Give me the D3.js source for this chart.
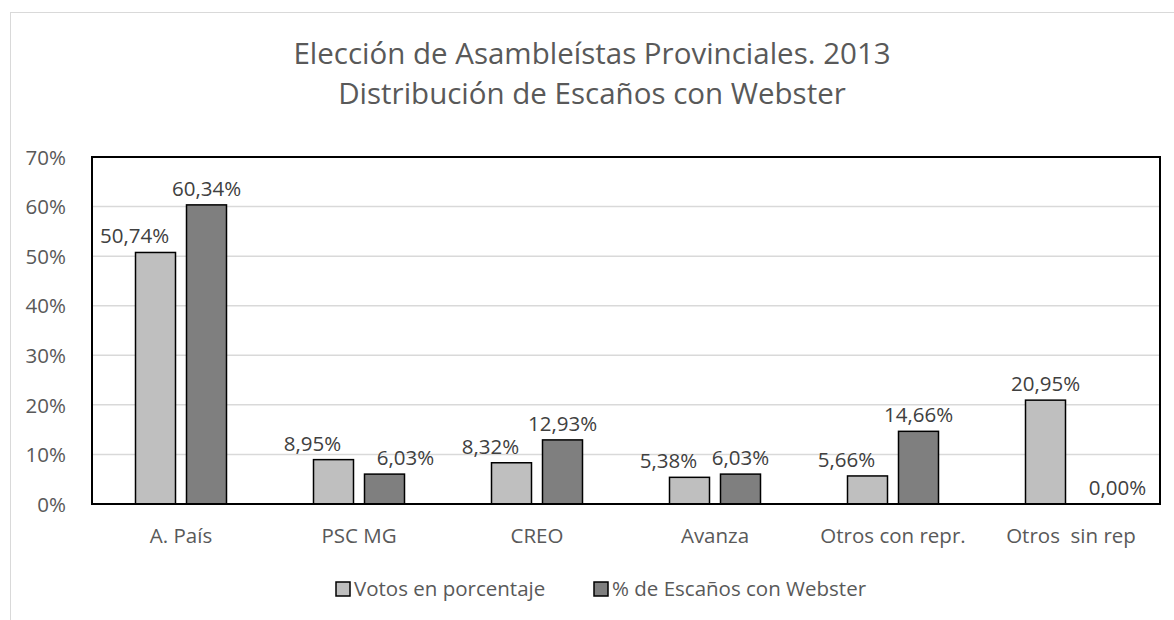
<!DOCTYPE html>
<html>
<head>
<meta charset="utf-8">
<script src="https://cdn.jsdelivr.net/npm/d3@7/dist/d3.min.js"></script>
<style type="text/css">
body { margin: 0; background: #fff; }
text { font-family: "Open Sans", sans-serif; white-space: pre; }
.tick text, .cat { fill: #595959; }
.lbl { fill: #404040; }
</style>
</head>
<body>
<script type="text/javascript">
var width = 1174,
    height = 620;

var categories = ['A. País', 'PSC MG', 'CREO', 'Avanza', 'Otros con repr.', 'Otros  sin rep'];
var votos = [50.74, 8.95, 8.32, 5.38, 5.66, 20.95];
var escanos = [60.34, 6.03, 12.93, 6.03, 14.66, 0.00];
var seriesNames = ['Votos en porcentaje', '% de Escaños con Webster'];
var yTicks = [0, 10, 20, 30, 40, 50, 60, 70];
var titleLines = ['Elección de Asambleístas Provinciales. 2013', 'Distribución de Escaños con Webster'];

var colors = ['#bfbfbf', '#7f7f7f'];
var margin = {left: 92, right: 1160, top: 157, bottom: 504};
var fs = '20.5px';
var fmt = function(v){ return v.toFixed(2).replace('.', ',') + '%'; };

var svg = d3.select('body')
    .append('svg')
        .attr('width', width)
        .attr('height', height);

// outer chart border
svg.append('rect')
    .attr('x', 10.5).attr('y', 12.5)
    .attr('width', 1180).attr('height', 640)
    .attr('fill', 'none')
    .attr('stroke', '#d9d9d9');

svg.selectAll('text.title')
    .data(titleLines)
    .enter()
    .append('text')
        .attr('class', 'cat')
        .attr('x', 592)
        .attr('y', function(d, i){ return 64 + i * 40; })
        .attr('text-anchor', 'middle')
        .style('font-size', '29.5px')
        .text(function(d){ return d; });

var x = d3.scaleBand()
    .domain(categories)
    .range([margin.left, margin.right]);

var y = d3.scaleLinear()
    .domain([0, 70])
    .range([margin.bottom, margin.top]);

var barW = 40, gap = 11;

// gridlines
svg.append('g')
    .selectAll('line')
    .data(yTicks)
    .enter()
    .append('line')
        .attr('x1', margin.left).attr('x2', margin.right)
        .attr('y1', function(d){ return y(d); })
        .attr('y2', function(d){ return y(d); })
        .attr('stroke', '#d9d9d9')
        .attr('stroke-width', 1.5);

var yAxis = svg.append('g')
    .attr('transform', 'translate(' + (margin.left - 23) + ',0)')
    .call(d3.axisLeft(y).tickValues(yTicks).tickSize(0).tickFormat(function(d){ return d + '%'; }));
yAxis.select('.domain').remove();
yAxis.selectAll('text').style('font-size', fs).attr('dy', '0.35em');

var xAxis = svg.append('g')
    .attr('transform', 'translate(0,' + margin.bottom + ')')
    .call(d3.axisBottom(x).tickSize(0).tickPadding(24));
xAxis.select('.domain').remove();
xAxis.selectAll('text').attr('class', 'cat').style('font-size', fs);

// bars
var rows = categories.map(function(c, i){ return [votos[i], escanos[i]]; });
var groups = svg.append('g')
    .selectAll('g')
    .data(rows)
    .enter()
    .append('g')
        .attr('transform', function(d, i){ return 'translate(' + (x(categories[i]) + x.bandwidth() / 2) + ',0)'; });

function barX(s){ return s === 0 ? -gap / 2 - barW : gap / 2; }

groups.selectAll('rect')
    .data(function(d){ return d; })
    .enter()
    .append('rect')
        .attr('x', function(d, s){ return barX(s); })
        .attr('y', function(d){ return y(d); })
        .attr('width', barW)
        .attr('height', function(d){ return y(0) - y(d); })
        .attr('fill', function(d, s){ return colors[s]; })
        .attr('stroke', '#000')
        .attr('stroke-width', 1.5);

// data labels, nudged apart like the spreadsheet does when they crowd
var nudge = 21;
groups.each(function(d){
    var shift = [0, 0];
    var lower = d[0] < d[1] ? 0 : 1;
    shift[lower] = lower === 0 ? -nudge : nudge;
    if (Math.abs(y(d[0]) - y(d[1])) < 50) shift[0] = -nudge;
    d3.select(this).selectAll('text')
        .data(d)
        .enter()
        .append('text')
            .attr('class', 'lbl')
            .attr('x', function(v, s){ return barX(s) + barW / 2 + shift[s]; })
            .attr('y', function(v){ return y(v) - 9; })
            .attr('text-anchor', 'middle')
            .style('font-size', fs)
            .text(function(v){ return fmt(v); });
});

// plot frame
svg.append('rect')
    .attr('x', margin.left).attr('y', margin.top)
    .attr('width', margin.right - margin.left)
    .attr('height', margin.bottom - margin.top)
    .attr('fill', 'none')
    .attr('stroke', '#000')
    .attr('stroke-width', 2);

// legend
var legendX = [336, 594];
var legend = svg.append('g')
    .selectAll('g')
    .data(seriesNames)
    .enter()
    .append('g')
        .attr('transform', function(d, i){ return 'translate(' + legendX[i] + ',582)'; });
legend.append('rect')
    .attr('width', 14).attr('height', 14)
    .attr('fill', function(d, i){ return colors[i]; })
    .attr('stroke', '#000')
    .attr('stroke-width', 1.5);
legend.append('text')
    .attr('class', 'cat')
    .attr('x', 18).attr('y', 7)
    .attr('dy', '0.35em')
    .style('font-size', fs)
    .text(function(d){ return d; });
</script>
</body>
</html>
